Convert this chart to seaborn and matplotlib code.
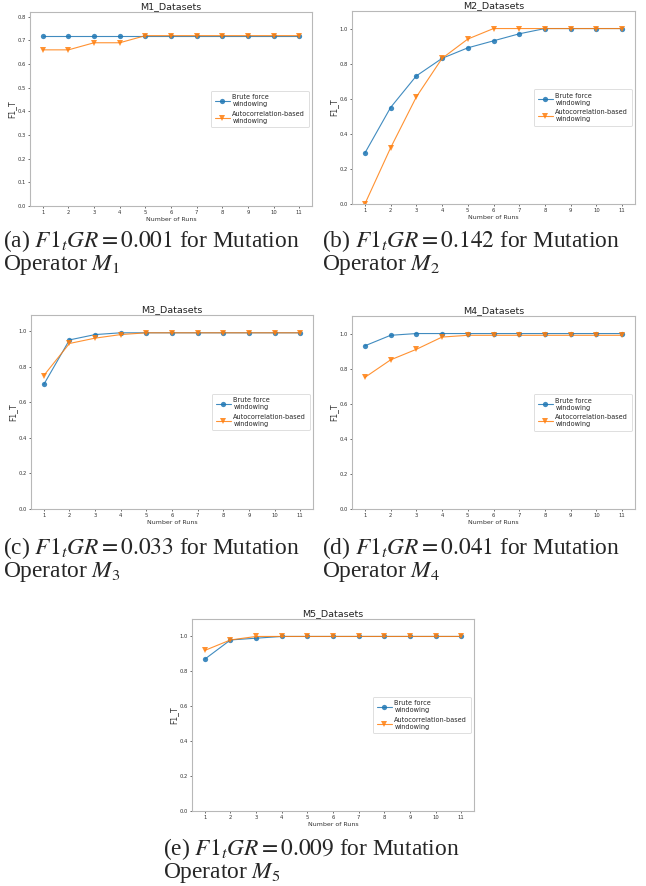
import numpy as np
import pandas as pd
import matplotlib
matplotlib.use("Agg")
import matplotlib.pyplot as plt
import seaborn as sns

runs = [1, 2, 3, 4, 5, 6, 7, 8, 9, 10, 11]

m1_brute = [0.72, 0.72, 0.72, 0.72, 0.72, 0.72, 0.72, 0.72, 0.72, 0.72, 0.72]
m1_auto = [0.66, 0.66, 0.69, 0.69, 0.72, 0.72, 0.72, 0.72, 0.72, 0.72, 0.72]

m2_brute = [0.29, 0.55, 0.73, 0.83, 0.89, 0.93, 0.97, 1.0, 1.0, 1.0, 1.0]
m2_auto = [0.0, 0.32, 0.61, 0.83, 0.94, 1.0, 1.0, 1.0, 1.0, 1.0, 1.0]

m3_brute = [0.70, 0.95, 0.98, 0.99, 0.99, 0.99, 0.99, 0.99, 0.99, 0.99, 0.99]
m3_auto = [0.75, 0.93, 0.96, 0.98, 0.99, 0.99, 0.99, 0.99, 0.99, 0.99, 0.99]

m4_brute = [0.93, 0.99, 1.0, 1.0, 1.0, 1.0, 1.0, 1.0, 1.0, 1.0, 1.0]
m4_auto = [0.75, 0.85, 0.91, 0.98, 0.99, 0.99, 0.99, 0.99, 0.99, 0.99, 0.99]

m5_brute = [0.87, 0.98, 0.99, 1.0, 1.0, 1.0, 1.0, 1.0, 1.0, 1.0, 1.0]
m5_auto = [0.92, 0.98, 1.0, 1.0, 1.0, 1.0, 1.0, 1.0, 1.0, 1.0, 1.0]

titles = ["M1_Datasets", "M2_Datasets", "M3_Datasets", "M4_Datasets", "M5_Datasets"]
series_labels = ["Brute force\nwindowing", "Autocorrelation-based\nwindowing"]
captions = [
    ("(a)", "0.001", "1"),
    ("(b)", "0.142", "2"),
    ("(c)", "0.033", "3"),
    ("(d)", "0.041", "4"),
    ("(e)", "0.009", "5"),
]
xlabel = "Number of Runs"
ylabel = "F1_T"

sns.set_style("ticks")
plt.rcParams["font.family"] = ["DejaVu Sans"]
plt.rcParams["mathtext.fontset"] = "stix"

W, H = 646, 886
fig = plt.figure(figsize=(W / 100, H / 100), dpi=100)

# axes boxes in pixels: left, top, right, bottom
boxes = [
    (30, 12, 312, 206),
    (352, 11, 635, 204),
    (31, 315, 313, 509),
    (352, 316, 635, 509),
    (192, 619, 474, 811),
]
caption_pos = [(3, 228), (322, 228), (3, 535), (322, 535), (163, 836)]

data = [
    (m1_brute, m1_auto),
    (m2_brute, m2_auto),
    (m3_brute, m3_auto),
    (m4_brute, m4_auto),
    (m5_brute, m5_auto),
]

blue = "#1f77b4"
orange = "#ff7f0e"
spine_col = "#b8b8b8"

for i, ((b, a), box) in enumerate(zip(data, boxes)):
    l, t, r, btm = box
    ax = fig.add_axes([l / W, (H - btm) / H, (r - l) / W, (btm - t) / H])
    df = pd.DataFrame({
        "run": runs * 2,
        "val": list(b) + list(a),
        "series": [series_labels[0]] * len(runs) + [series_labels[1]] * len(runs),
    })
    sns.lineplot(data=df, x="run", y="val", hue="series", style="series",
                 markers=["o", "v"], dashes=False,
                 palette=[blue, orange], ax=ax, linewidth=0.8,
                 markersize=3.8, markeredgewidth=0)
    for ln in ax.lines:
        ln.set_alpha(0.85)
    ax.set_xticks(runs)
    ymax = max(max(b), max(a)) + 0.1
    ax.set_ylim(0, ymax)
    ax.set_yticks(np.arange(0, ymax + 1e-9, 0.2 if ymax > 0.9 else 0.1))
    ax.yaxis.set_major_formatter(matplotlib.ticker.FormatStrFormatter("%.1f"))
    ax.tick_params(labelsize=3.8, length=1.5, width=0.5, colors="#333333", pad=1.5)
    ax.set_title(titles[i], fontsize=6.8, pad=2, color="#222222")
    ax.set_xlabel(xlabel, fontsize=4.5, labelpad=1, color="#333333")
    ax.set_ylabel(ylabel, fontsize=5.5, labelpad=0.5, color="#333333")
    for s in ax.spines.values():
        s.set_visible(True)
        s.set_color(spine_col)
        s.set_linewidth(0.8)
    leg = ax.legend(loc="center right", fontsize=4.7, frameon=True,
                    handlelength=2.3, borderpad=0.55, labelspacing=0.55,
                    handletextpad=0.4, fancybox=True)
    leg.get_frame().set_edgecolor("#d0d0d0")
    leg.get_frame().set_linewidth(0.6)

    lab, val, idx = captions[i]
    cx, cy = caption_pos[i]
    txt = f"{lab} $F1_tGR = {val}$ for Mutation\nOperator $M_{idx}$"
    fig.text(cx / W, 1 - cy / H, txt, ha="left", va="top", fontsize=16.8,
             family=["Liberation Serif", "DejaVu Serif"], linespacing=0.95)

fig.savefig("out.png", dpi=100)
